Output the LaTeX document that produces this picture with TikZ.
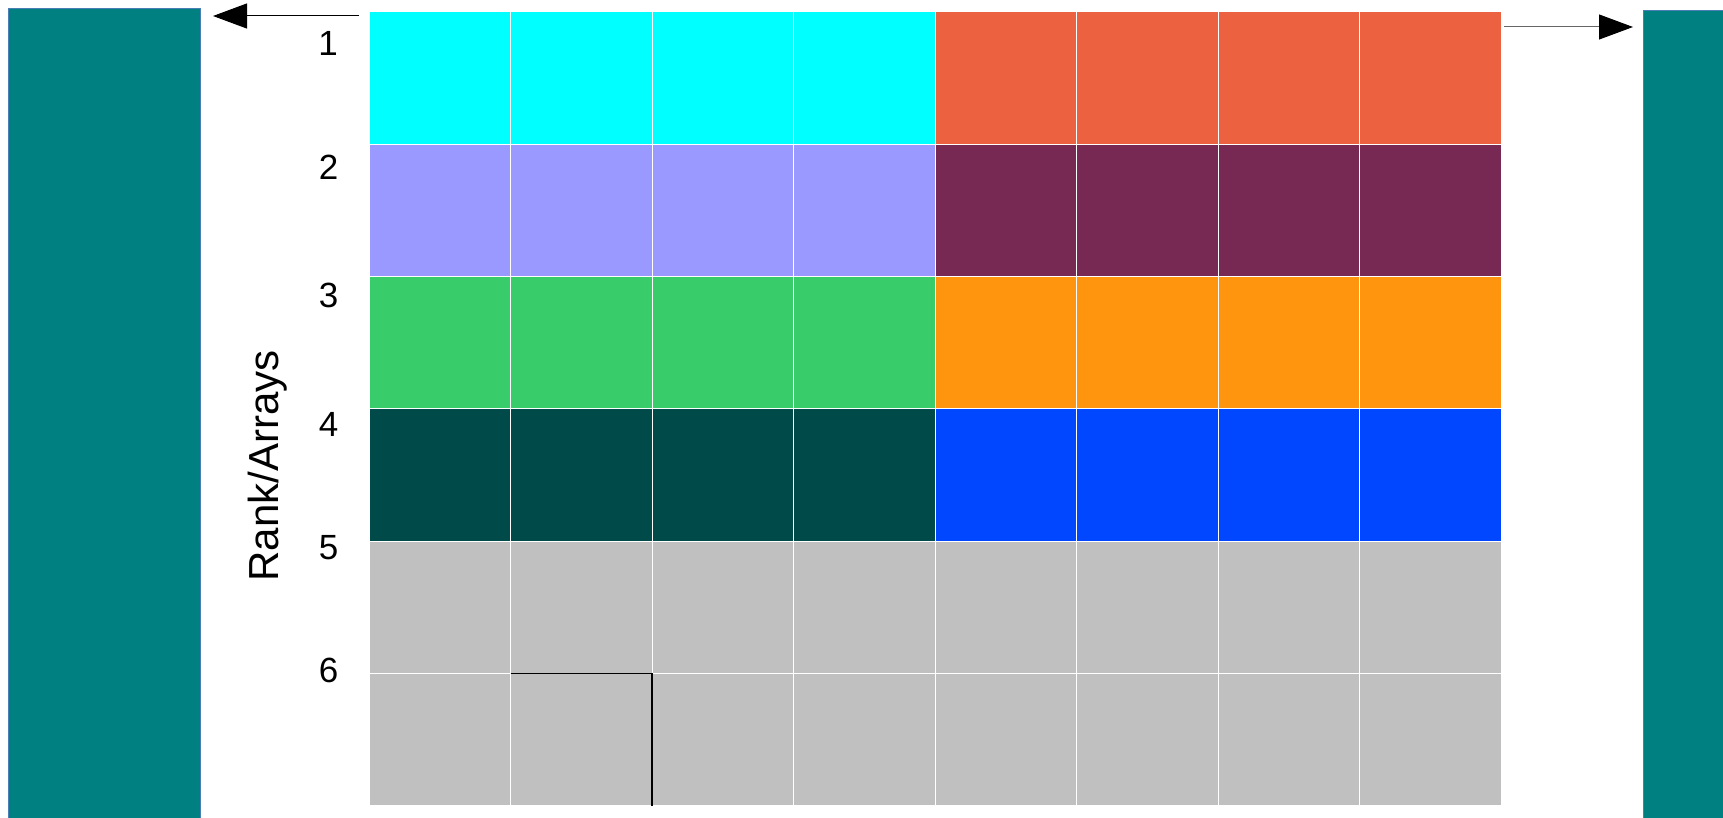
\documentclass[tikz,border=0pt]{standalone}
\usepackage{fontspec}
\setmainfont{Liberation Sans}
\usetikzlibrary{arrows.meta}
\definecolor{cCyan}{HTML}{00FFFF}
\definecolor{cCoral}{HTML}{EC6241}
\definecolor{cLilac}{HTML}{9999FF}
\definecolor{cMaroon}{HTML}{772953}
\definecolor{cGreen}{HTML}{38CC6A}
\definecolor{cOrange}{HTML}{FF950E}
\definecolor{cDeep}{HTML}{004A4A}
\definecolor{cBlue}{HTML}{0047FF}
\definecolor{cGrey}{HTML}{C0C0C0}
\definecolor{cTeal}{HTML}{008080}
\definecolor{cTealEdge}{HTML}{4A7FB5}
\tikzset{
  cell/.style={draw=white, line width=1pt, inner sep=0pt, outer sep=0pt,
    minimum width=141.5pt, minimum height=132.3pt, anchor=north west},
  bar/.style={fill=cTeal, draw=cTealEdge, line width=0.8pt, inner sep=0pt, outer sep=0pt, anchor=north west},
  rowlabel/.style={font=\fontsize{35}{42}\selectfont, inner sep=0pt},
  ptr/.style={line width=1pt, -{Triangle[length=34pt,width=25pt,black]}},
}
\begin{document}
\begin{tikzpicture}[x=1pt,y=-1pt]
\useasboundingbox (0,0) rectangle (1723,818);
% side bars
\node[bar, minimum width=192pt, minimum height=820pt] (lbar) at (8,8) {};
\node[bar, minimum width=80pt, minimum height=818pt] (rbar) at (1643,10) {};
% grid cells
\foreach \r/\cl/\cr in {1/cCyan/cCoral, 2/cLilac/cMaroon, 3/cGreen/cOrange, 4/cDeep/cBlue, 5/cGrey/cGrey, 6/cGrey/cGrey}{
  \foreach \c in {1,...,8}{
    \pgfmathsetmacro{\xx}{369+141.5*(\c-1)}
    \pgfmathsetmacro{\yy}{12+132.33*(\r-1)}
    \ifnum\c<5
      \node[cell, fill=\cl] (c-\r-\c) at (\xx,\yy) {};
    \else
      \node[cell, fill=\cr] (c-\r-\c) at (\xx,\yy) {};
    \fi
  }
}
% black outline on one cell
\draw[black, line width=1.3pt] (c-6-2.north west) -- (c-6-2.north east) -- (c-6-2.south east);
% row labels
\node[rowlabel] (l1) at (328,43.5) {1};
\node[rowlabel] (l2) at (328.5,167) {2};
\node[rowlabel] (l3) at (328.5,295) {3};
\node[rowlabel] (l4) at (328.5,424) {4};
\node[rowlabel] (l5) at (328.5,548) {5};
\node[rowlabel] (l6) at (328.5,670) {6};
\node[font=\fontsize{42}{50}\selectfont, rotate=90, inner sep=0pt] (axis) at (268,466) {Rank/Arrays};
% arrows
\coordinate (la) at (359,16);
\coordinate (lt) at (213,16);
\coordinate (ra) at (1504,27);
\coordinate (rt) at (1633,27);
\draw[ptr, draw=black] (la) -- (lt);
\draw[ptr, draw=black!60] (ra) -- (rt);
\end{tikzpicture}
\end{document}
